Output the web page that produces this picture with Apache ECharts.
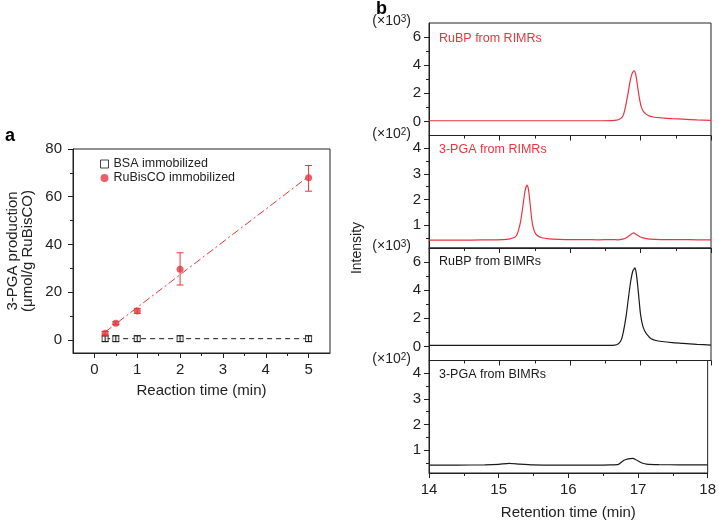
<!DOCTYPE html>
<html><head><meta charset="utf-8">
<script src="https://cdn.jsdelivr.net/npm/echarts@6/dist/echarts.min.js"></script>
<style>html,body{margin:0;padding:0;background:#fff}#c{width:719px;height:521px}</style>
</head><body><div id="c"></div>
<script>
// ---------- Panel a data ----------
const reactionTime = [0.25, 0.5, 1, 2, 5];
const bsaMean = [0.5, 0.5, 0.5, 0.5, 0.5];
const bsaLow = [-0.7, -0.7, -0.7, -0.7, -0.7];
const bsaHigh = [1.7, 1.7, 1.7, 1.7, 1.7];
const rubiscoMean = [2.8, 7.0, 12.1, 29.6, 67.9];
const rubiscoLow = [2.1, 6.4, 11.1, 23.0, 62.3];
const rubiscoHigh = [3.5, 7.6, 13.2, 36.5, 73.1];
const fitX = [0.25, 5];
const rubiscoFitY = [3.3, 68.5];
const bsaFitY = [0.5, 0.5];
const aXTicks = [0, 1, 2, 3, 4, 5];
const aXMinor = [0.5, 1.5, 2.5, 3.5, 4.5];
const aYTicks = [0, 20, 40, 60, 80];
const aYMinor = [10, 30, 50, 70];

// ---------- Panel b data (retention time, intensity in scaled units) ----------
const rubpRIMRs = [[14.0,0.05],[14.5,0.05],[15.0,0.05],[15.5,0.05],[16.0,0.05],[16.4,0.05],[16.6,0.06],[16.66,0.09],[16.7,0.15],[16.73,0.25],[16.76,0.5],[16.79,1.1],[16.82,1.9],[16.85,2.8],[16.88,3.4],[16.91,3.62],[16.93,3.4],[16.95,2.8],[16.97,2.1],[16.99,1.5],[17.01,1.05],[17.04,0.72],[17.08,0.52],[17.13,0.38],[17.2,0.3],[17.3,0.25],[17.45,0.2],[17.6,0.16],[17.8,0.11],[18.0,0.07]];
const pgaRIMRs = [[14.0,0.41],[14.3,0.41],[14.6,0.41],[14.9,0.42],[15.05,0.43],[15.15,0.46],[15.2,0.5],[15.24,0.58],[15.27,0.8],[15.3,1.15],[15.33,1.7],[15.36,2.3],[15.39,2.56],[15.41,2.4],[15.43,1.95],[15.45,1.4],[15.47,1.0],[15.5,0.72],[15.54,0.58],[15.6,0.5],[15.7,0.46],[15.85,0.44],[16.0,0.43],[16.2,0.43],[16.4,0.42],[16.6,0.43],[16.68,0.42],[16.75,0.45],[16.8,0.5],[16.86,0.62],[16.9,0.69],[16.94,0.63],[17.0,0.53],[17.08,0.47],[17.2,0.44],[17.4,0.43],[17.6,0.43],[17.8,0.42],[18.0,0.42]];
const rubpBIMRs = [[14.0,0.07],[14.5,0.07],[15.0,0.07],[15.5,0.07],[16.0,0.07],[16.4,0.07],[16.6,0.08],[16.66,0.12],[16.7,0.25],[16.73,0.5],[16.76,1.1],[16.8,2.3],[16.83,3.5],[16.86,4.6],[16.89,5.35],[16.92,5.58],[16.94,5.2],[16.96,4.35],[16.98,3.3],[17.0,2.3],[17.03,1.5],[17.06,1.1],[17.1,0.8],[17.15,0.55],[17.22,0.42],[17.3,0.35],[17.45,0.27],[17.6,0.22],[17.8,0.15],[18.0,0.1]];
const pgaBIMRs = [[14.0,0.41],[14.4,0.41],[14.8,0.42],[15.0,0.44],[15.15,0.48],[15.3,0.45],[15.5,0.42],[15.8,0.41],[16.1,0.41],[16.4,0.41],[16.6,0.42],[16.72,0.44],[16.76,0.52],[16.8,0.6],[16.86,0.65],[16.92,0.67],[16.97,0.62],[17.02,0.54],[17.07,0.48],[17.12,0.45],[17.3,0.43],[17.6,0.42],[18.0,0.42]];
const bXTicks = [14, 15, 16, 17, 18];
const bXMinor = [14.5, 15.5, 16.5, 17.5];
const bYTicksK = [0, 2, 4, 6];
const bYMinorK = [1, 3, 5];
const bYTicksH = [1, 2, 3, 4];
const bYMinorH = [0.5, 1.5, 2.5, 3.5];
const panelNames = ['RuBP from RIMRs', '3-PGA from RIMRs', 'RuBP from BIMRs', '3-PGA from BIMRs'];
const panelScales = ['3', '2', '3', '2'];

const RED = '#e6363f', BLACK = '#1a1a1a', AX = '#222';
const FONT = "'Liberation Sans', Arial, sans-serif";

const chart = echarts.init(document.getElementById('c'), null, {renderer: 'canvas'});

const panelTops = [23, 135.5, 248, 360.5];
const panelH = 112.5;
const grids = [{left: 73, top: 149, width: 257, height: 204, show: true, borderColor: AX, borderWidth: 1}];
panelTops.forEach(t => grids.push({left: 429, top: t, width: 282, height: panelH, show: true, borderColor: AX, borderWidth: 1}));

const xAxes = [], yAxes = [];
// panel a
xAxes.push({type: 'value', gridIndex: 0, position: 'bottom', min: -0.5, max: 5.5, splitLine: {show: false},
  axisLine: {onZero: false, lineStyle: {color: AX}}, axisTick: {customValues: aXTicks, length: 5, lineStyle: {color: AX}},
  axisLabel: {customValues: aXTicks, margin: 9, fontSize: 15, color: AX, fontFamily: FONT},
  name: 'Reaction time (min)', nameLocation: 'middle', nameGap: 30, nameTextStyle: {fontSize: 15, color: AX, fontFamily: FONT}});
xAxes.push({type: 'value', gridIndex: 0, position: 'bottom', min: -0.5, max: 5.5, splitLine: {show: false},
  axisLine: {show: false, onZero: false}, axisTick: {customValues: aXMinor, length: 3, lineStyle: {color: AX}}, axisLabel: {show: false}});
yAxes.push({type: 'value', gridIndex: 0, position: 'left', min: -5.5, max: 80, splitLine: {show: false},
  axisLine: {show: true, onZero: false, lineStyle: {color: AX}}, axisTick: {show: true, customValues: aYTicks, length: 5, lineStyle: {color: AX}},
  axisLabel: {customValues: aYTicks, margin: 11, fontSize: 15, color: AX, fontFamily: FONT},
  name: '3-PGA production\n(μmol/g RuBisCO)', nameLocation: 'middle', nameGap: 38, nameRotate: 90,
  nameTextStyle: {fontSize: 15, lineHeight: 15, color: AX, fontFamily: FONT}});
yAxes.push({type: 'value', gridIndex: 0, position: 'left', min: -5.5, max: 80, splitLine: {show: false},
  axisLine: {show: false, onZero: false}, axisTick: {show: true, customValues: aYMinor, length: 3, lineStyle: {color: AX}}, axisLabel: {show: false}});

// panel b
const ranges = [[-1, 7], [0.1, 4.5], [-1, 7], [0.1, 4.5]];
for (let i = 0; i < 4; i++) {
  const last = i === 3;
  xAxes.push({type: 'value', gridIndex: i + 1, position: 'bottom', min: 14, max: 18, splitLine: {show: false},
    axisLine: {onZero: false, lineStyle: {color: AX}}, axisTick: {customValues: bXTicks, length: 5, lineStyle: {color: AX}},
    axisLabel: {show: last, customValues: bXTicks, margin: 9, fontSize: 15, color: AX, fontFamily: FONT},
    name: last ? 'Retention time (min)' : '', nameLocation: 'middle', nameGap: 32,
    nameTextStyle: {fontSize: 15, color: AX, fontFamily: FONT}});
  xAxes.push({type: 'value', gridIndex: i + 1, position: 'bottom', min: 14, max: 18, splitLine: {show: false},
    axisLine: {show: false, onZero: false}, axisTick: {customValues: bXMinor, length: 3, lineStyle: {color: AX}}, axisLabel: {show: false}});
  const k = (i % 2 === 0);
  yAxes.push({type: 'value', gridIndex: i + 1, position: 'left', min: ranges[i][0], max: ranges[i][1], splitLine: {show: false},
    axisLine: {show: true, onZero: false, lineStyle: {color: AX}}, axisTick: {show: true, customValues: k ? bYTicksK : bYTicksH, length: 5, lineStyle: {color: AX}},
    axisLabel: {customValues: k ? bYTicksK : bYTicksH, margin: 8, fontSize: 15, color: AX, fontFamily: FONT}});
  yAxes.push({type: 'value', gridIndex: i + 1, position: 'left', min: ranges[i][0], max: ranges[i][1], splitLine: {show: false},
    axisLine: {show: false, onZero: false}, axisTick: {show: true, customValues: k ? bYMinorK : bYMinorH, length: 3, lineStyle: {color: AX}}, axisLabel: {show: false}});
}

function errBar(color) {
  return function (params, api) {
    const x = api.value(0);
    const lo = api.coord([x, api.value(1)]);
    const hi = api.coord([x, api.value(2)]);
    const w = 3.5;
    const st = {stroke: color, lineWidth: 1};
    return {type: 'group', children: [
      {type: 'line', shape: {x1: lo[0], y1: lo[1], x2: hi[0], y2: hi[1]}, style: st},
      {type: 'line', shape: {x1: lo[0] - w, y1: lo[1], x2: lo[0] + w, y2: lo[1]}, style: st},
      {type: 'line', shape: {x1: hi[0] - w, y1: hi[1], x2: hi[0] + w, y2: hi[1]}, style: st}
    ]};
  };
}

const series = [
  {type: 'line', name: 'bsaFit', xAxisIndex: 0, yAxisIndex: 0, data: fitX.map((x, i) => [x, bsaFitY[i]]),
   symbol: 'none', lineStyle: {color: BLACK, width: 1, type: [5, 4]}, silent: true, z: 2},
  {type: 'line', name: 'rubiscoFit', xAxisIndex: 0, yAxisIndex: 0, data: fitX.map((x, i) => [x, rubiscoFitY[i]]),
   symbol: 'none', lineStyle: {color: RED, width: 1, type: [8, 3, 2, 3]}, silent: true, z: 2},
  {type: 'scatter', name: 'BSA immobilized', xAxisIndex: 0, yAxisIndex: 0, symbol: 'rect', symbolSize: 6,
   itemStyle: {color: '#fff', borderColor: BLACK, borderWidth: 1}, data: reactionTime.map((x, i) => [x, bsaMean[i]]), z: 3},
  {type: 'custom', name: 'bsaErr', xAxisIndex: 0, yAxisIndex: 0, renderItem: errBar(BLACK),
   data: reactionTime.map((x, i) => [x, bsaLow[i], bsaHigh[i]]), encode: {x: 0, y: [1, 2]}, z: 4},
  {type: 'custom', name: 'rubErr', xAxisIndex: 0, yAxisIndex: 0, renderItem: errBar(RED),
   data: reactionTime.map((x, i) => [x, rubiscoLow[i], rubiscoHigh[i]]), encode: {x: 0, y: [1, 2]}, z: 4},
  {type: 'scatter', name: 'RuBisCO immobilized', xAxisIndex: 0, yAxisIndex: 0, symbol: 'circle', symbolSize: 7,
   itemStyle: {color: RED}, data: reactionTime.map((x, i) => [x, rubiscoMean[i]]), z: 5}
];
const chrom = [rubpRIMRs, pgaRIMRs, rubpBIMRs, pgaBIMRs];
chrom.forEach((d, i) => {
  series.push({type: 'line', name: panelNames[i], xAxisIndex: 2 + 2 * i, yAxisIndex: 2 + 2 * i, data: d,
    symbol: 'none', smooth: 0.2, lineStyle: {color: i < 2 ? RED : BLACK, width: 1.2}, silent: true});
});

const graphics = [
  {type: 'text', left: 5, top: 127, style: {text: 'a', font: "bold 18px " + FONT, fill: '#000'}},
  {type: 'text', left: 376, top: 0, style: {text: 'b', font: "bold 18px " + FONT, fill: '#000'}},
  {type: 'text', x: 357, y: 248, rotation: Math.PI / 2,
   style: {text: 'Intensity', font: "14px " + FONT, fill: AX, align: 'center', verticalAlign: 'middle'}}
];
panelTops.forEach((t, i) => {
  graphics.push({type: 'text', x: 411, y: t - 1.5,
    style: {text: '(×10{s|' + panelScales[i] + '})', font: "14px " + FONT, fill: AX, align: 'right', verticalAlign: 'middle',
      rich: {s: {fontSize: 10, verticalAlign: 'top', fill: AX, fontFamily: FONT}}}});
  graphics.push({type: 'text', x: 439, y: t + (i === 0 ? 16 : 14),
    style: {text: panelNames[i], font: "12.5px " + FONT, fill: i < 2 ? RED : BLACK, align: 'left', verticalAlign: 'middle'}});
});

chart.setOption({
  animation: false,
  backgroundColor: '#fff',
  grid: grids,
  xAxis: xAxes,
  yAxis: yAxes,
  legend: {orient: 'vertical', left: 95, top: 152, itemWidth: 8, itemHeight: 8, itemGap: 0,
    selectedMode: false,
    textStyle: {fontSize: 12.5, lineHeight: 14, color: AX, fontFamily: FONT},
    data: [
      {name: 'BSA immobilized', icon: 'rect', itemStyle: {color: '#fff', borderColor: BLACK, borderWidth: 1}},
      {name: 'RuBisCO immobilized', icon: 'circle', itemStyle: {color: RED}}
    ]},
  graphic: graphics,
  series: series
});
</script></body></html>
